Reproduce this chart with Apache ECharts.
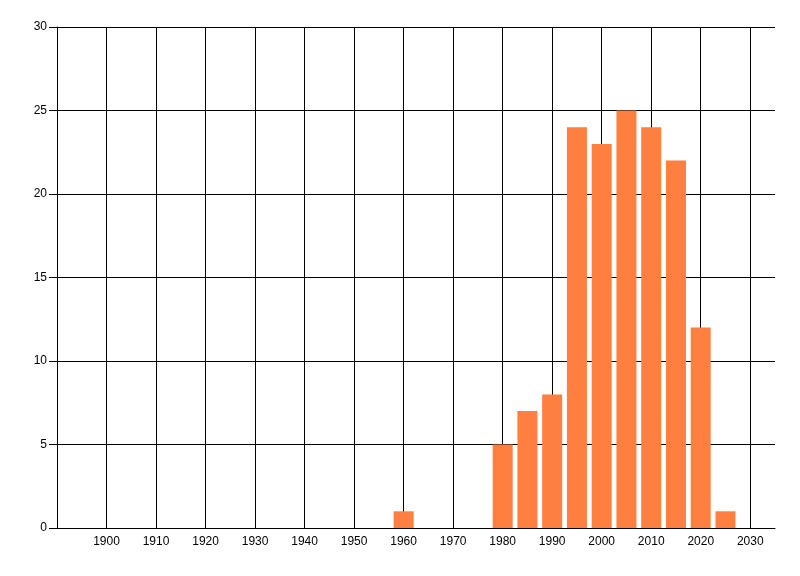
<!DOCTYPE html>
<html>
<head>
<meta charset="utf-8">
<script src="https://cdn.jsdelivr.net/npm/echarts@6/dist/echarts.min.js"></script>
<style>html,body{margin:0;padding:0;background:#fff}#c{width:800px;height:576px}</style>
</head>
<body>
<div id="c"></div>
<script>
const years = [1960, 1980, 1985, 1990, 1995, 2000, 2005, 2010, 2015, 2020, 2025];
const counts = [1, 5, 7, 8, 24, 23, 25, 24, 22, 12, 1];

const chart = echarts.init(document.getElementById('c'), null, {renderer: 'canvas'});
chart.setOption({
  animation: false,
  backgroundColor: '#ffffff',
  grid: {left: 57, right: 25, top: 27, bottom: 48, containLabel: false},
  xAxis: {
    type: 'value', min: 1890, max: 2035, interval: 10,
    axisLine: {show: true, lineStyle: {color: '#000', width: 1}},
    axisTick: {show: false},
    axisLabel: {
      color: '#000', fontFamily: 'Liberation Sans', fontSize: 12, margin: 8,
      formatter: v => (v % 10 === 0 && v > 1890) ? String(v) : ''
    },
    splitLine: {show: true, showMinLine: false, showMaxLine: false, lineStyle: {color: '#000', width: 1}}
  },
  yAxis: {
    type: 'value', min: 0, max: 30, interval: 5,
    axisLine: {show: true, lineStyle: {color: '#000', width: 1}},
    axisTick: {show: true, length: 8, lineStyle: {color: '#000'}},
    axisLabel: {color: '#000', fontFamily: 'Liberation Sans', fontSize: 12, margin: 10},
    splitLine: {show: true, lineStyle: {color: '#000', width: 1}}
  },
  series: [{
    type: 'bar',
    data: years.map((y, i) => [y, counts[i]]),
    barWidth: 20,
    itemStyle: {color: '#ff7f41'},
    silent: true
  }]
});
</script>
</body>
</html>
